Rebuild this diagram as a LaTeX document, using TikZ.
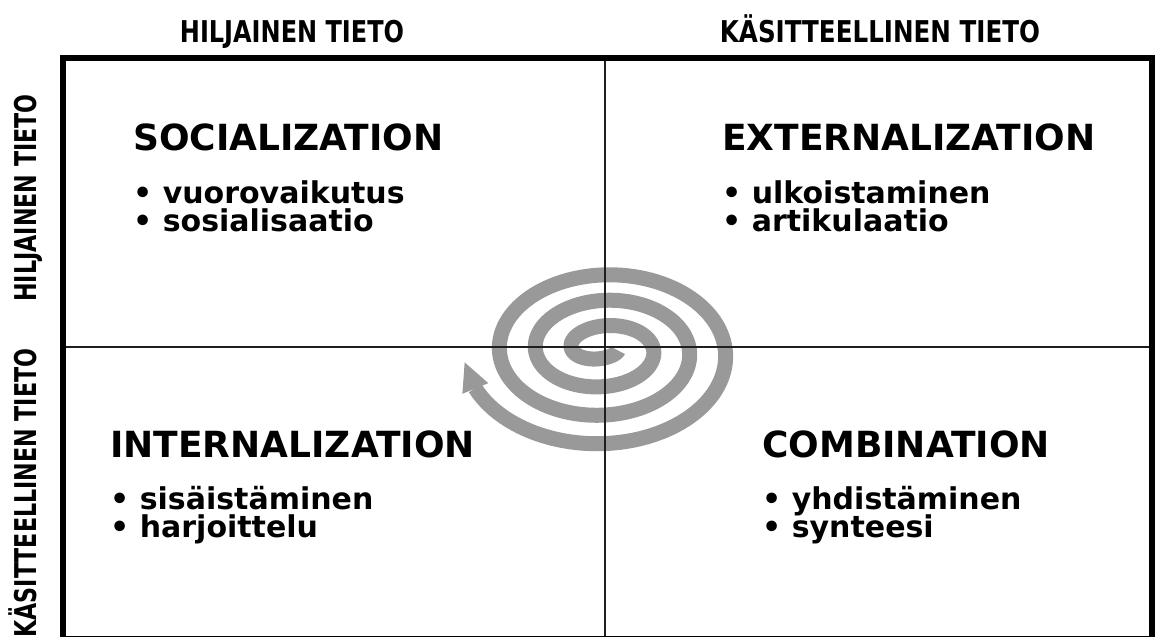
\documentclass[tikz,border=0pt]{standalone}
\usepackage{fontspec}
\usepackage{graphicx}
\setmainfont{DejaVu Sans}
\usetikzlibrary{calc}
\definecolor{spiralgray}{RGB}{153,153,153}
\definecolor{gridline}{RGB}{30,30,30}
% fixed line spacing for the item lists, even where glyphs nearly touch
\protected\def\tightleading{\lineskiplimit=-1000pt\relax}
\tikzset{
  declare function={
    spx(\s)=603.5+(14+36*\s)*cos(360*\s);
    spy(\s)=348+1.5*\s+(3+27*\s)*sin(360*\s);
  },
  axislabel/.style={font=\bfseries\fontsize{30}{30}\selectfont, inner sep=0pt, anchor=base},
  modetitle/.style={font=\bfseries\fontsize{36}{36}\selectfont, inner sep=0pt, anchor=base west},
  modeitem/.style={font=\bfseries\fontsize{30}{28}\selectfont\tightleading,
    inner sep=0pt, anchor=base west, align=left},
  spiralline/.style={spiralgray, line width=15pt},
  innerline/.style={gridline, line width=2.5pt},
  frameline/.style={black, line width=6pt},
}
\begin{document}
\begin{tikzpicture}[x=1pt,y=-1pt]
\useasboundingbox (0,0) rectangle (1157,637);
\clip (0,0) rectangle (1157,637);

% knowledge spiral, winding outward clockwise, ending in an arrowhead
\draw[spiralline]
  plot[domain=0.08:3.445, samples=400, variable=\s]
  ({spx(\s)}, {spy(\s)});
\coordinate (spiraltip) at ({spx(3.485)},{spy(3.485)});
\coordinate (spiralneck) at ({spx(3.44)},{spy(3.44)});
\fill[spiralgray] (spiraltip)
  -- ($(spiralneck)!14pt!90:(spiraltip)$)
  -- ($(spiralneck)!14pt!-90:(spiraltip)$) -- cycle;

% quadrant dividers and frame
\coordinate (nw) at (63,58);
\coordinate (se) at (1152,639);
\coordinate (tm) at (605,58);
\coordinate (bm) at (605,639);
\coordinate (lm) at (63,347);
\coordinate (rm) at (1152,347);
\draw[innerline] (tm) -- (bm);
\draw[innerline] (lm) -- (rm);
\draw[frameline] (nw) rectangle (se);

% axis labels
\node[axislabel] (toptacit) at (292,42) {\scalebox{0.8}[1]{HILJAINEN TIETO}};
\node[axislabel] (topexplicit) at (880,42) {\scalebox{0.82}[1]{KÄSITTEELLINEN TIETO}};
\node[axislabel, rotate=90] (sidetacit) at (36,198) {\scalebox{0.74}[1]{HILJAINEN TIETO}};
\node[axislabel, rotate=90] (sideexplicit) at (36,493) {\scalebox{0.74}[1]{KÄSITTEELLINEN TIETO}};

% socialization (item lists are placed by the baseline of their last line)
\node[modetitle] (soc) at (133,150) {SOCIALIZATION};
\node[modeitem] (socitems) at (133,231) {• vuorovaikutus\\• sosialisaatio};

% externalization
\node[modetitle] (ext) at (722,150) {EXTERNALIZATION};
\node[modeitem] (extitems) at (722,231) {• ulkoistaminen\\• artikulaatio};

% internalization
\node[modetitle] (int) at (110,457) {INTERNALIZATION};
\node[modeitem] (intitems) at (110,537) {• sisäistäminen\\• harjoittelu};

% combination
\node[modetitle] (com) at (762,457) {COMBINATION};
\node[modeitem] (comitems) at (762,537) {• yhdistäminen\\• synteesi};
\end{tikzpicture}
\end{document}
